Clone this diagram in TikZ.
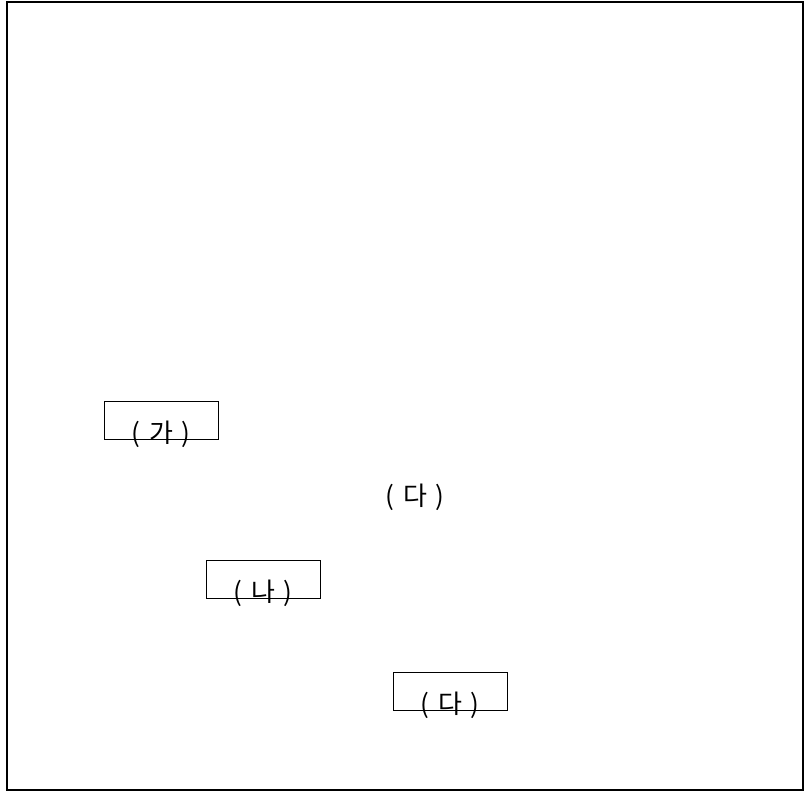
\documentclass[tikz,border=0pt]{standalone}
\usepackage{fontspec}
\newfontfamily\kofont{Noto Sans CJK KR}
\usetikzlibrary{positioning}

\tikzset{
  labelbox/.style={draw,line width=0.9pt,minimum width=114pt,minimum height=38pt,inner sep=0pt},
  hangul/.style={font=\kofont\fontsize{26}{30}\selectfont,inner sep=0pt}
}

\begin{document}
\begin{tikzpicture}[x=1pt,y=-1pt]
  \useasboundingbox (0,0) rectangle (804,792);
  % frame
  \draw[line width=1.4pt] (7,2) rectangle (803,790);
  % boxes with labels sitting on their lower edge
  \node[labelbox] (boxga) at (161,420) {};
  \node[hangul] (ga) at ([yshift=5pt]boxga.south) {(\,\,가\,\,)};
  \node[labelbox] (boxna) at (263,579) {};
  \node[hangul] (na) at ([yshift=5pt]boxna.south) {(\,\,나\,\,)};
  \node[labelbox] (boxda) at (450,691) {};
  \node[hangul] (dab) at ([yshift=5pt]boxda.south) {(\,\,다\,\,)};
  % free label
  \node[hangul] (da) at (415,497) {(\,\,다\,\,)};
\end{tikzpicture}
\end{document}
